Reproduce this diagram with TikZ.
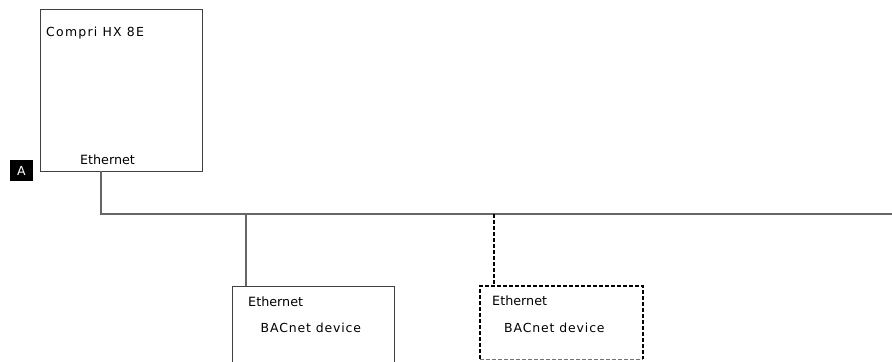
\documentclass[tikz,border=0pt]{standalone}
\usepackage{fontspec}
\setmainfont{DejaVu Sans}
\begin{document}
\begin{tikzpicture}[x=1bp,y=-1bp,
  wire/.style={draw=black!60, line width=1.2bp},
  dwire/.style={draw=black, line width=1.3bp, dash pattern=on 4bp off 2bp},
  box/.style={draw=black!75, line width=1bp},
  lbl/.style={font=\fontsize{12.8}{14}\selectfont, inner sep=0pt, anchor=west},
  spaced/.style={font=\fontsize{12.5}{14}\selectfont\addfontfeatures{LetterSpace=10}, inner sep=0pt, anchor=west},
  dev/.style={font=\fontsize{12.5}{14}\selectfont\addfontfeatures{LetterSpace=7}, inner sep=0pt, anchor=west}]
\useasboundingbox (0,0) rectangle (892,361);
% Compri box
\draw[box] (40,9) rectangle (202,171);
\node[spaced] (cname) at (46,33) {Compri HX 8E};
\node[lbl, anchor=center] (ceth) at (107.5,160) {Ethernet};
\coordinate (cport) at (101,171);
% A marker
\node[fill=black, text=white, minimum width=23bp, minimum height=21bp, inner sep=0pt,
  font=\fontsize{12.5}{14}\selectfont] (A) at (21.5,170.5) {A};
% bus
\coordinate (bus0) at (101,214);
\coordinate (busend) at (892,214);
\coordinate (t1) at (246,214);
\coordinate (t2) at (494,214);
\draw[wire] (cport) -- (bus0) -- (busend);
% device 1
\coordinate (d1top) at (246,286);
\draw[wire] (t1) -- (d1top);
\draw[box] (232,363) -- (232,286) -- (394,286) -- (394,363);
\node[lbl] (d1eth) at (248,302) {Ethernet};
\node[dev] (d1name) at (260.5,328) {BACnet device};
% device 2 (dashed)
\coordinate (d2top) at (494,286);
\draw[dwire] (t2) -- (d2top);
\draw[dwire] (480,359) -- (480,286) -- (643,286) -- (643,359);
\draw[draw=black!55, line width=0.8bp, dash pattern=on 4bp off 2bp] (480,359) -- (643,359);
\node[lbl] (d2eth) at (492,301) {Ethernet};
\node[dev] (d2name) at (504,328) {BACnet device};
\end{tikzpicture}
\end{document}
